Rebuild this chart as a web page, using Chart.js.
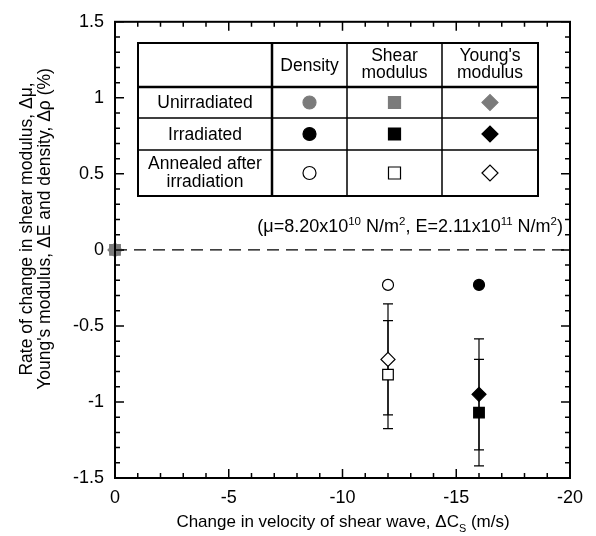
<!DOCTYPE html>
<html>
<head>
<meta charset="utf-8">
<script src="https://cdn.jsdelivr.net/npm/chart.js@4/dist/chart.umd.min.js"></script>
<style>
  html, body { margin: 0; padding: 0; background: #fff; }
</style>
</head>
<body>
<canvas id="chart" width="596" height="536"></canvas>
<script>
// ---- data ----
const xTickLabels = ['0', '-5', '-10', '-15', '-20'];
const yTickLabels = ['1.5', '1', '0.5', '0', '-0.5', '-1', '-1.5'];
const groups = ['Unirradiated', 'Irradiated', 'Annealed after irradiation'];
const groupVelocity = [0, -16, -12];      // ΔCs (m/s)
const density = [0, -0.23, -0.23];        // Δρ (%)
const shear = [0, -1.07, -0.82];          // Δμ (%)
const young = [0, -0.95, -0.72];          // ΔE (%)
const densityErr = [0, 0.01, 0.01];
const shearErr = [0, 0.35, 0.355];
const youngErr = [0, 0.365, 0.365];
const zeroLine = [0, -20];

const FONT = '"Liberation Sans", Arial, Helvetica, sans-serif';
const GRAY = '#7b7b7b';
const groupFill = [GRAY, '#000', '#fff'];
const groupBorder = [GRAY, '#000', '#000'];
const props = [
  { name: 'Density', values: density, err: densityErr, style: 'circle', r: 5.5, lr: 6.5 },
  { name: 'Shear modulus', values: shear, err: shearErr, style: 'rect', r: 7.5, lr: 8.5 },
  { name: "Young's modulus", values: young, err: youngErr, style: 'rectRot', r: 7, lr: 8 }
];

const datasets = [];
props.forEach(p => {
  groups.forEach((g, i) => {
    datasets.push({
      label: g + ' ' + p.name,
      data: [{ x: groupVelocity[i], y: p.values[i] }],
      pointStyle: p.style,
      pointRadius: p.r,
      pointBackgroundColor: groupFill[i],
      pointBorderColor: groupBorder[i],
      pointBorderWidth: 1.2,
      showLine: false,
      clip: false
    });
  });
});
datasets.push({
  type: 'line',
  label: 'zero',
  data: zeroLine.map(x => ({ x: x, y: 0 })),
  borderColor: '#000',
  borderWidth: 1.2,
  borderDash: [12, 7],
  pointRadius: 0,
  order: 10
});

// error bars, drawn under the markers
const errorBars = {
  id: 'errorBars',
  beforeDatasetsDraw(chart) {
    const ctx = chart.ctx, xs = chart.scales.x, ys = chart.scales.y;
    ctx.save();
    ctx.strokeStyle = '#000';
    ctx.lineWidth = 1.2;
    props.forEach(p => {
      groups.forEach((g, i) => {
        if (!p.err[i]) return;
        const x = xs.getPixelForValue(groupVelocity[i]);
        const y1 = ys.getPixelForValue(p.values[i] + p.err[i]);
        const y2 = ys.getPixelForValue(p.values[i] - p.err[i]);
        ctx.beginPath();
        ctx.moveTo(x, y1); ctx.lineTo(x, y2);
        ctx.moveTo(x - 5, y1); ctx.lineTo(x + 5, y1);
        ctx.moveTo(x - 5, y2); ctx.lineTo(x + 5, y2);
        ctx.stroke();
      });
    });
    ctx.restore();
  }
};

function drawRich(ctx, parts, x, y, size, align) {
  const fs = p => (p.sup || p.sub ? size * 0.64 : size);
  let w = 0;
  parts.forEach(p => {
    ctx.font = fs(p) + 'px ' + FONT;
    p.w = ctx.measureText(p.t).width;
    w += p.w;
  });
  let cx = align === 'right' ? x - w : align === 'center' ? x - w / 2 : x;
  ctx.textAlign = 'left';
  parts.forEach(p => {
    ctx.font = fs(p) + 'px ' + FONT;
    const dy = p.sup ? -size * 0.4 : (p.sub ? size * 0.3 : 0);
    ctx.fillText(p.t, cx, y + dy);
    cx += p.w;
  });
}

// frame, inward ticks, legend table and titles
const decorations = {
  id: 'decorations',
  afterDraw(chart) {
    const ctx = chart.ctx, a = chart.chartArea;
    const xs = chart.scales.x, ys = chart.scales.y;
    ctx.save();
    ctx.strokeStyle = '#000';
    ctx.fillStyle = '#000';

    // inward ticks on all four sides
    ctx.lineWidth = 1.5;
    ctx.beginPath();
    for (let v = -20; v <= 0; v++) {
      const x = xs.getPixelForValue(v);
      const len = v % 5 === 0 ? 9 : 5;
      ctx.moveTo(x, a.bottom); ctx.lineTo(x, a.bottom - len);
      ctx.moveTo(x, a.top); ctx.lineTo(x, a.top + len);
    }
    for (let k = -15; k <= 15; k++) {
      const y = ys.getPixelForValue(k / 10);
      const len = k % 5 === 0 ? 9 : 5;
      ctx.moveTo(a.left, y); ctx.lineTo(a.left + len, y);
      ctx.moveTo(a.right, y); ctx.lineTo(a.right - len, y);
    }
    ctx.stroke();
    ctx.lineWidth = 2;
    ctx.strokeRect(a.left, a.top, a.right - a.left, a.bottom - a.top);

    // legend table
    const colX = [138, 272, 347, 442, 538];
    const rowY = [43, 87, 118, 150, 196];
    ctx.fillStyle = '#fff';
    ctx.fillRect(colX[0], rowY[0], colX[4] - colX[0], rowY[4] - rowY[0]);
    ctx.fillStyle = '#000';
    ctx.lineWidth = 1.5;
    ctx.beginPath();
    [2, 3].forEach(c => { ctx.moveTo(colX[c], rowY[0]); ctx.lineTo(colX[c], rowY[4]); });
    [2, 3].forEach(r => { ctx.moveTo(colX[0], rowY[r]); ctx.lineTo(colX[4], rowY[r]); });
    ctx.stroke();
    ctx.lineWidth = 2.5;
    ctx.beginPath();
    ctx.moveTo(colX[1], rowY[0]); ctx.lineTo(colX[1], rowY[4]);
    ctx.moveTo(colX[0], rowY[1]); ctx.lineTo(colX[4], rowY[1]);
    ctx.stroke();
    ctx.lineWidth = 2;
    ctx.strokeRect(colX[0], rowY[0], colX[4] - colX[0], rowY[4] - rowY[0]);

    ctx.font = '17.5px ' + FONT;
    ctx.textAlign = 'center';
    ctx.textBaseline = 'middle';
    const mid = (arr, i) => (arr[i] + arr[i + 1]) / 2;
    ctx.fillText('Density', mid(colX, 1), mid(rowY, 0) + 1);
    ctx.fillText('Shear', mid(colX, 2), 56);
    ctx.fillText('modulus', mid(colX, 2), 73);
    ctx.fillText("Young's", mid(colX, 3), 56);
    ctx.fillText('modulus', mid(colX, 3), 73);
    ctx.fillText(groups[0], mid(colX, 0), mid(rowY, 1) + 1);
    ctx.fillText(groups[1], mid(colX, 0), mid(rowY, 2) + 1);
    ctx.fillText('Annealed after', mid(colX, 0), 164);
    ctx.fillText('irradiation', mid(colX, 0), 182);

    props.forEach((p, c) => {
      groups.forEach((g, i) => {
        ctx.fillStyle = groupFill[i];
        ctx.strokeStyle = groupBorder[i];
        ctx.lineWidth = 1.2;
        Chart.helpers.drawPoint(ctx, { pointStyle: p.style, radius: p.lr, borderWidth: 1.2 },
          mid(colX, c + 1), mid(rowY, i + 1));
      });
    });

    // reference values note
    ctx.fillStyle = '#000';
    ctx.textBaseline = 'alphabetic';
    drawRich(ctx, [
      { t: '(\u03bc=8.20x10' }, { t: '10', sup: true }, { t: ' N/m' }, { t: '2', sup: true },
      { t: ', E=2.11x10' }, { t: '11', sup: true }, { t: ' N/m' }, { t: '2', sup: true }, { t: ')' }
    ], 563, 232, 18, 'right');

    // axis titles
    drawRich(ctx, [
      { t: 'Change in velocity of shear wave, \u0394C' }, { t: 'S', sub: true }, { t: ' (m/s)' }
    ], 343, 527, 17, 'center');

    ctx.save();
    ctx.font = '17.5px ' + FONT;
    ctx.textAlign = 'center';
    ctx.textBaseline = 'middle';
    ctx.translate(27, 229);
    ctx.rotate(-Math.PI / 2);
    ctx.fillText('Rate of change in shear modulus, \u0394\u03bc,', 0, 0);
    ctx.fillText('Young\'s modulus, \u0394E and density, \u0394\u03c1 (%)', 0, 18);
    ctx.restore();

    ctx.restore();
  }
};

new Chart(document.getElementById('chart').getContext('2d'), {
  type: 'scatter',
  data: { datasets: datasets },
  plugins: [errorBars, decorations],
  options: {
    responsive: false,
    animation: false,
    devicePixelRatio: 1,
    layout: { padding: { top: 20, right: 26, left: 0, bottom: 0 } },
    plugins: { legend: { display: false }, tooltip: { enabled: false } },
    scales: {
      x: {
        type: 'linear',
        min: -20, max: 0, reverse: true,
        afterFit: s => { s.height = 58; },
        grid: { display: false, drawTicks: false },
        border: { display: false },
        ticks: {
          stepSize: 5, padding: 9, color: '#000',
          font: { family: FONT, size: 18 },
          callback: v => xTickLabels[Math.round(-v / 5)]
        }
      },
      y: {
        type: 'linear',
        min: -1.5, max: 1.5,
        afterFit: s => { s.width = 115; },
        grid: { display: false, drawTicks: false },
        border: { display: false },
        ticks: {
          stepSize: 0.5, padding: 11, color: '#000',
          font: { family: FONT, size: 18 },
          callback: v => yTickLabels[Math.round((1.5 - v) / 0.5)]
        }
      }
    }
  }
});
</script>
</body>
</html>
